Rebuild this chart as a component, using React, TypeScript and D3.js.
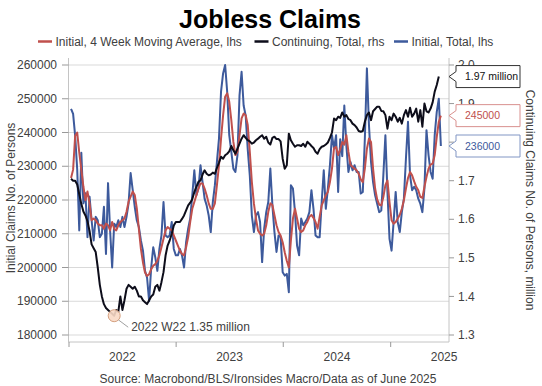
import React from 'react';
import * as d3 from 'd3';

// Initial claims, 4 week moving average (thousands of persons), weekly from 2022-01-08
const initialMA4 = [
  226.5, 229, 239, 240, 234, 229, 224, 220, 222.5, 219, 214, 214.5, 214, 213, 212.5,
  212.5, 211.5, 213, 212.5, 211, 213.5, 211.5, 211, 212.5, 213.5, 214, 214.5, 216.5, 219.5, 221, 222.5, 221.5, 217.5, 211.5, 205.5, 201.5, 198.5, 197.5, 198, 199.5, 200.5, 201, 202,
  203.6, 206, 208.5, 211, 212, 211.5, 211, 209.5, 208, 206.5, 205, 204, 203.6, 206, 209, 213.5, 217.4, 219.4, 221.4, 223.4, 224.9, 224.9, 223.4, 221.4, 219, 217.4, 217.4, 219,
  224.4, 230.3, 238.2, 245.1, 250.6, 251.6, 249.1, 243.7, 237.2, 233.3, 234.3, 239.2, 244.2, 245.6, 245.1, 242.2, 234.3, 225.3, 219, 214.5, 211, 210, 209.5, 210, 212.5, 216.5, 219, 218.5,
  215.5, 212.5, 210.5, 209.5, 207.5, 204.5, 202, 200, 208, 214.5, 217.4, 214.5, 211.5, 210.5, 211, 212.5, 213.5, 215, 215.6, 214.7, 213.5, 211.5, 215, 218.4, 219.9, 221.4, 222.4, 225.3, 229.3,
  235.4, 235.7, 233.3, 235, 237.2, 236.4, 239.2, 234.3, 230.5, 229.8, 229.3, 228.8, 227.8, 226.1, 225.3, 229.3, 235.2, 238.2, 237.2, 229.3, 223.4, 220.2, 218.6, 218.4, 220.9, 224.4, 225.8,
  219.4, 214, 213, 213.5, 214.5, 215.6, 217.4, 219.9, 223.4, 226.5, 228.3, 227.3, 225.5, 223.9, 222.9, 220.9, 220.6, 223.9, 226.8, 229.3, 230.5, 230.8, 233.3, 238.7, 243.2, 245,
];

// Continuing claims, total (millions of persons), weekly from 2022-01-08
const continuingTotal = [
  1.705, 1.7, 1.7, 1.69, 1.665, 1.64, 1.62, 1.61, 1.595, 1.57, 1.535, 1.525, 1.515, 1.475, 1.43,
  1.4, 1.38, 1.37, 1.365, 1.36, 1.355, 1.35, 1.365, 1.36, 1.4, 1.365, 1.39, 1.42, 1.43, 1.425, 1.42, 1.425, 1.415, 1.4, 1.4, 1.39, 1.385, 1.38, 1.39, 1.4, 1.405, 1.425, 1.43,
  1.415, 1.437, 1.463, 1.506, 1.532, 1.545, 1.562, 1.584, 1.593, 1.593, 1.593, 1.601, 1.61, 1.623, 1.636, 1.643, 1.652, 1.671, 1.684, 1.697, 1.701, 1.716, 1.727, 1.718, 1.714, 1.716, 1.721, 1.718,
  1.733, 1.747, 1.762, 1.757, 1.766, 1.77, 1.776, 1.79, 1.779, 1.77, 1.783, 1.796, 1.809, 1.818, 1.811, 1.805, 1.802, 1.796, 1.799, 1.805, 1.809, 1.814, 1.818, 1.809, 1.814, 1.799, 1.794, 1.811,
  1.814, 1.808, 1.808, 1.802, 1.757, 1.731, 1.74, 1.822, 1.805, 1.796, 1.788, 1.792, 1.792, 1.79, 1.796, 1.788, 1.801, 1.796, 1.79, 1.785, 1.775, 1.77, 1.782, 1.788, 1.79, 1.794, 1.799, 1.811, 1.825,
  1.861, 1.857, 1.866, 1.863, 1.877, 1.866, 1.87, 1.86, 1.857, 1.848, 1.844, 1.838, 1.829, 1.827, 1.829, 1.853, 1.87, 1.877, 1.857, 1.88, 1.886, 1.892, 1.892, 1.881, 1.88, 1.87,
  1.835, 1.866, 1.857, 1.874, 1.866, 1.853, 1.863, 1.848, 1.87, 1.883, 1.866, 1.889, 1.866, 1.874, 1.887, 1.853, 1.883, 1.84, 1.9, 1.88, 1.877, 1.887, 1.903, 1.931, 1.948, 1.97,
];

// Initial claims, total (thousands of persons), weekly from 2022-01-08
const initialTotal = [
  247, 245.5, 239, 229, 211, 234, 219, 222, 209, 221, 214, 208, 215, 214, 209,
  210, 218, 204, 225, 211, 200, 213, 212, 214, 212, 215, 212, 215, 219, 228, 223, 218, 214, 212, 208, 205, 199, 197, 190, 200, 206, 203, 199,
  205.5, 209.5, 219.4, 209.5, 209, 209.5, 213.5, 205.5, 203.6, 203.6, 205.5, 203.6, 200, 207.5, 211.5, 214.5, 221.4, 228.8, 221.4, 223.4, 230.3, 225.3, 220.4, 218.4, 215.4, 210.5, 219.4, 224.4,
  231.3, 238.2, 252.1, 257.5, 260, 252, 239.2, 234.3, 229.3, 228.3, 233.3, 251, 258, 248, 245, 235, 227.3, 215.4, 210.5, 215.4, 216.4, 213.5, 201.6, 211.5, 216.4, 219.4, 229.3, 218.4,
  210.5, 204.6, 209.5, 209, 198.6, 197.6, 198.1, 192.7, 224.4, 223.4, 216.4, 206.5, 203.6, 214.5, 212.5, 213.5, 214.5, 216.4, 222.9, 217.4, 209.5, 209, 209, 219.4, 228.8, 217.4, 223.4, 230.3, 239.2,
  235.2, 239.2, 222.4, 238, 233, 248, 236.2, 228.3, 231.3, 228.8, 230.3, 228.3, 228.3, 221.9, 222.4, 238.2, 259, 242.2, 231.3, 225.3, 221.4, 218.9, 216.4, 216.9, 227.3, 239.2, 222.4,
  208.5, 205, 213.5, 222.4, 213.5, 210.5, 216.4, 220.4, 232.3, 243.2, 227.3, 222.9, 223.9, 222.9, 220.4, 218.9, 216.4, 223.4, 240.7, 233.3, 228.3, 226.3, 239.2, 246.1, 250, 236,
];

const yearTicks = [2022, 2023, 2024, 2025];
const leftTicks = [180000, 190000, 200000, 210000, 220000, 230000, 240000, 250000, 260000];
const rightTicks = [1.3, 1.4, 1.5, 1.6, 1.7, 1.8, 1.9, 2.0];
const firstWeek = new Date(2022, 0, 8);

const COLORS = { ma: '#c0504d', cont: '#0d0d1a', init: '#3d5a9c' };
const FONT = 'Liberation Sans, Arial, Helvetica, sans-serif';
const TXT = '#404040';

export default function App() {
  const W = 542, H = 386;
  const left = 69, right = 449, top = 65, bottom = 335;
  const x = d3.scaleTime().domain([new Date(2022, 0, 1), new Date(2025, 6, 17)]).range([left, right - 0.5]);
  const yL = d3.scaleLinear().domain([180000, 260000]).range([bottom, top]);
  const yR = d3.scaleLinear().domain([1.3, 2.0]).range([bottom, top]);

  const dates = (n: number) => d3.range(n).map(i => d3.timeDay.offset(firstWeek, 7 * i));
  const maDates = dates(initialMA4.length);
  const initDates = dates(initialTotal.length);
  const contDates = dates(continuingTotal.length);
  const maPts = initialMA4.map((v, i) => [maDates[i], v * 1000] as [Date, number]);
  const initPts = initialTotal.map((v, i) => [initDates[i], v * 1000] as [Date, number]);
  const contPts = continuingTotal.map((v, i) => [contDates[i], v] as [Date, number]);

  const lineL = d3.line<[Date, number]>().x(d => x(d[0])).y(d => yL(d[1]));
  const lineR = d3.line<[Date, number]>().x(d => x(d[0])).y(d => yR(d[1]));

  const minPt = d3.least(contPts, d => d[1])!;
  const minX = x(minPt[0]);
  const minY = yR(minPt[1]);
  const minLabel = `${d3.timeFormat('%Y W%V')(minPt[0])} ${d3.format('.2f')(minPt[1])} million`;

  const lastCont = contPts[contPts.length - 1];
  const lastMA = maPts[maPts.length - 1];
  const lastInit = initPts[initPts.length - 1];

  const callout = (y: number) => {
    const bx = 456, bw = 64, bh = 22, tip = right;
    return `M${tip},${y} L${bx},${y - 5} L${bx},${y - bh / 2} L${bx + bw},${y - bh / 2} L${bx + bw},${y + bh / 2} L${bx},${y + bh / 2} L${bx},${y + 5} Z`;
  };
  const callouts = [
    { y: yR(lastCont[1]), text: `${d3.format('.2f')(lastCont[1])} million`, stroke: '#333333', fill: '#111111' },
    { y: yL(lastMA[1]), text: d3.format('d')(lastMA[1]), stroke: '#d9908e', fill: COLORS.ma },
    { y: yL(lastInit[1]), text: d3.format('d')(lastInit[1]), stroke: '#8196c4', fill: COLORS.init },
  ];
  // right-axis tick labels that are fully covered by a callout box are not drawn (hidden in the reference)
  const hidden = (t: number) => callouts.some(c => Math.abs(yR(t) - c.y) < 6);

  const legend = [
    { x: 38, color: COLORS.ma, label: 'Initial, 4 Week Moving Average, lhs' },
    { x: 254.5, color: COLORS.cont, label: 'Continuing, Total, rhs' },
    { x: 394, color: COLORS.init, label: 'Initial, Total, lhs' },
  ];

  return (
    <svg width={W} height={H} style={{ position: 'absolute', left: 0, top: 0, fontFamily: FONT }}>
      <rect width={W} height={H} fill="#ffffff" />
      <text x={270} y={27.5} textAnchor="middle" fontSize={25} fontWeight="bold" fill="#000">Jobless Claims</text>
      {legend.map(l => (
        <g key={l.label}>
          <line x1={l.x} x2={l.x + 14} y1={41.5} y2={41.5} stroke={l.color} strokeWidth={2.5} />
          <text x={l.x + 17.5} y={41.5} dy="0.35em" fontSize={12} fill={TXT}>{l.label}</text>
        </g>
      ))}

      {leftTicks.map(t => (
        <line key={'g' + t} x1={left} x2={right} y1={yL(t)} y2={yL(t)} stroke="#d9d9d9" strokeWidth={1} />
      ))}

      <line x1={left - 0.5} x2={left - 0.5} y1={58} y2={342} stroke="#c4c4c4" />
      <line x1={right} x2={right} y1={58} y2={342} stroke="#c4c4c4" />
      <line x1={left - 0.5} x2={right} y1={342} y2={342} stroke="#c4c4c4" />

      {leftTicks.map(t => (
        <g key={'l' + t}>
          <line x1={62} x2={left - 0.5} y1={yL(t)} y2={yL(t)} stroke="#999" />
          <text x={57} y={yL(t)} dy="0.35em" textAnchor="end" fontSize={12} fill={TXT}>{t}</text>
        </g>
      ))}
      <text transform={`translate(11,198) rotate(-90)`} textAnchor="middle" dy="0.35em" fontSize={12} fill={TXT}>Initial Claims No. of Persons</text>

      {rightTicks.map(t => (
        <g key={'r' + t}>
          <line x1={right} x2={right + 5} y1={yR(t)} y2={yR(t)} stroke="#999" />
          {!hidden(t) && (
            <text x={right + 9} y={yR(t)} dy="0.35em" fontSize={12} fill={TXT}>{d3.format('.1f')(t)}</text>
          )}
        </g>
      ))}
      <text transform={`translate(530,200) rotate(90)`} textAnchor="middle" dy="0.35em" fontSize={12} fill={TXT}>Continuing Claims No. of Persons, million</text>

      {yearTicks.map(yr => (
        <g key={'x' + yr}>
          <line x1={x(new Date(yr, 0, 1))} x2={x(new Date(yr, 0, 1))} y1={342} y2={347} stroke="#999" />
          <text x={x(new Date(yr, 6, 2))} y={361} textAnchor="middle" fontSize={12} fill={TXT}>{yr}</text>
        </g>
      ))}

      <path d={lineL(initPts)!} fill="none" stroke={COLORS.init} strokeWidth={2} strokeLinejoin="round" />
      <path d={lineL(maPts)!} fill="none" stroke={COLORS.ma} strokeWidth={2} strokeLinejoin="round" />
      <path d={lineR(contPts)!} fill="none" stroke={COLORS.cont} strokeWidth={2} strokeLinejoin="round" />

      <line x1={minX + 4} y1={minY + 4} x2={minX + 14} y2={minY + 11.5} stroke="#a0a0a0" />
      <circle cx={minX} cy={minY} r={6} fill="#f9d9c5" fillOpacity={0.9} stroke="#d4a080" />
      <text x={minX + 17} y={minY + 15.5} fontSize={12} fill={TXT}>{minLabel}</text>

      {callouts.map(c => (
        <g key={c.text}>
          <path d={callout(c.y)} fill="#ffffff" stroke={c.stroke} strokeWidth={1} />
          <text x={465} y={c.y} dy="0.35em" fontSize={10.5} fill={c.fill}>{c.text}</text>
        </g>
      ))}

      <text x={268} y={383} textAnchor="middle" fontSize={12} fill={TXT}>Source: Macrobond/BLS/Ironsides Macro/Data as of June 2025</text>
    </svg>
  );
}
